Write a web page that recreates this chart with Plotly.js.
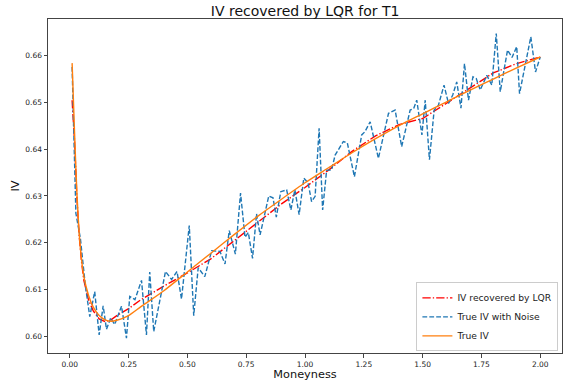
<!DOCTYPE html>
<html>
<head>
<meta charset="utf-8">
<script src="https://cdn.plot.ly/plotly-3.0.1.min.js"></script>
<style>html,body{margin:0;padding:0;background:#fff;}#chart{width:565px;height:387px;}</style>
</head>
<body>
<div id="chart"></div>
<script>
// True IV (smooth curve)
var trueX = [0.01,0.02,0.03,0.04,0.05,0.06,0.08,0.10,0.125,0.15,0.175,0.20,0.25,0.30,0.40,0.50,0.60,0.70,0.80,0.90,1.00,1.10,1.20,1.30,1.40,1.50,1.60,1.70,1.80,1.90,2.00];
var trueIV = [0.6583,0.6440,0.6310,0.6220,0.6165,0.6128,0.6088,0.6063,0.6045,0.6036,0.6033,0.6035,0.6045,0.6063,0.6098,0.6138,0.6178,0.6218,0.6257,0.6293,0.6328,0.6360,0.6392,0.6422,0.6450,0.6475,0.6500,0.6525,0.6549,0.6573,0.6596];

// IV recovered by LQR
var lqrX = [0.01,0.02,0.03,0.04,0.05,0.06,0.08,0.10,0.125,0.15,0.175,0.20,0.25,0.30,0.40,0.50,0.60,0.70,0.80,0.90,1.00,1.10,1.20,1.30,1.40,1.50,1.60,1.70,1.80,1.90,2.00];
var lqrIV = [0.6504,0.6420,0.6300,0.6215,0.6160,0.6120,0.6078,0.6055,0.6038,0.6032,0.6036,0.6045,0.6060,0.6078,0.6108,0.6136,0.6166,0.6205,0.6245,0.6283,0.6318,0.6355,0.6395,0.6428,0.6452,0.6465,0.6497,0.6530,0.6562,0.6582,0.6596];

// True IV with noise
var noiseX = [0.01,0.026,0.045,0.066,0.085,0.106,0.125,0.142,0.156,0.174,0.191,0.22,0.241,0.255,0.277,0.305,0.326,0.34,0.357,0.407,0.433,0.456,0.475,0.508,0.527,0.546,0.574,0.603,0.638,0.66,0.678,0.704,0.726,0.745,0.759,0.777,0.794,0.809,0.846,0.864,0.878,0.897,0.922,0.94,0.957,0.975,0.995,1.013,1.028,1.043,1.06,1.075,1.092,1.113,1.128,1.163,1.18,1.21,1.241,1.255,1.277,1.312,1.355,1.383,1.411,1.447,1.462,1.475,1.497,1.511,1.529,1.549,1.567,1.591,1.61,1.628,1.645,1.663,1.678,1.695,1.714,1.728,1.745,1.773,1.794,1.813,1.83,1.861,1.88,1.90,1.912,1.94,1.96,1.98,2.00];
var noiseIV = [0.6575,0.6263,0.6210,0.6110,0.6043,0.6096,0.6004,0.6066,0.6016,0.6040,0.6026,0.6065,0.5997,0.6086,0.6079,0.6120,0.6004,0.6138,0.6011,0.6139,0.6122,0.6139,0.6080,0.6237,0.6045,0.6147,0.6128,0.6183,0.6182,0.6155,0.6226,0.6176,0.6306,0.6212,0.6222,0.6167,0.6262,0.6217,0.6300,0.6296,0.6255,0.6309,0.6313,0.6270,0.6313,0.6260,0.6338,0.6328,0.6288,0.6299,0.6444,0.6270,0.6355,0.6355,0.6387,0.6416,0.6413,0.6341,0.6430,0.6437,0.6458,0.6380,0.6476,0.6483,0.6405,0.6483,0.6486,0.6504,0.6430,0.6504,0.6377,0.6483,0.6493,0.6536,0.6497,0.6515,0.6543,0.6487,0.6582,0.6504,0.6554,0.6550,0.6526,0.6557,0.6536,0.6646,0.6522,0.6611,0.6595,0.6618,0.6518,0.6590,0.6639,0.6564,0.6596];

var xTicks = [0, 0.25, 0.5, 0.75, 1.0, 1.25, 1.5, 1.75, 2.0];
var xTickText = ['0.00','0.25','0.50','0.75','1.00','1.25','1.50','1.75','2.00'];
var yTicks = [0.60, 0.61, 0.62, 0.63, 0.64, 0.65, 0.66];
var yTickText = ['0.60','0.61','0.62','0.63','0.64','0.65','0.66'];

var FONT = 'DejaVu Sans, sans-serif';
var traces = [
  {x: lqrX, y: lqrIV, mode: 'lines', name: 'IV recovered by LQR',
   line: {color: '#ff0000', width: 1.4, dash: '8.3px,2.1px,1.3px,2.1px'}},
  {x: noiseX, y: noiseIV, mode: 'lines', name: 'True IV with Noise',
   line: {color: '#1f77b4', width: 1.4, dash: '4.8px,2.1px'}},
  {x: trueX, y: trueIV, mode: 'lines', name: 'True IV',
   line: {color: '#ff7f0e', width: 1.4, shape: 'spline', smoothing: 0.6}}
];

var layout = {
  width: 565, height: 387,
  margin: {l: 48, r: 3, t: 19, b: 34, pad: 0},
  paper_bgcolor: '#fff', plot_bgcolor: '#fff',
  font: {family: FONT, color: '#222'},
  showlegend: true,
  title: {text: 'IV recovered by LQR for T1', font: {family: FONT, size: 14, color: '#111'},
          x: 0.54, xanchor: 'center', y: 0.985, yanchor: 'top'},
  xaxis: {range: [-0.0925, 2.0925], tickvals: xTicks, ticktext: xTickText,
          showgrid: false, zeroline: false, showline: true, mirror: true,
          linecolor: '#444', linewidth: 1, ticks: 'outside', ticklen: 3.5, tickcolor: '#444',
          tickfont: {family: FONT, size: 7.5, color: '#222'},
          title: {text: 'Moneyness', font: {family: FONT, size: 11.3, color: '#111'}, standoff: 2}},
  yaxis: {range: [0.59653, 0.6677], tickvals: yTicks, ticktext: yTickText,
          showgrid: false, zeroline: false, showline: true, mirror: true,
          linecolor: '#444', linewidth: 1, ticks: 'outside', ticklen: 3.5, tickcolor: '#444',
          tickfont: {family: FONT, size: 7.5, color: '#222'},
          title: {text: 'IV', font: {family: FONT, size: 11.3, color: '#111'}, standoff: 3}},
  legend: {x: 0.993, xanchor: 'right', y: 0.005, yanchor: 'bottom',
           bgcolor: 'rgba(255,255,255,0.8)', bordercolor: '#ccc', borderwidth: 1,
           font: {family: FONT, size: 9.2, color: '#222'}, tracegroupgap: 0, itemwidth: 30}
};

Plotly.newPlot('chart', traces, layout, {displayModeBar: false, staticPlot: true});
</script>
</body>
</html>
